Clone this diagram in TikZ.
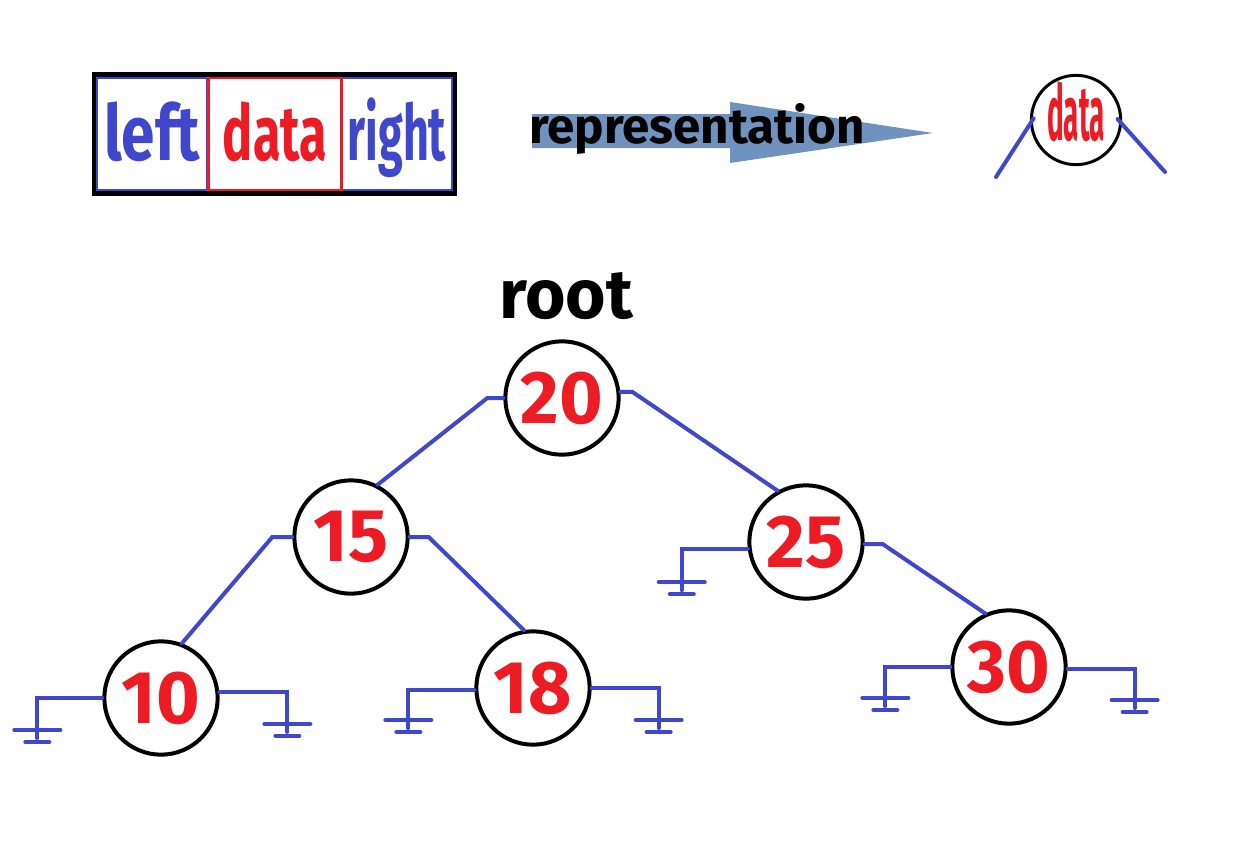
\documentclass[tikz,border=0pt]{standalone}
\usepackage{fontspec}
\usepackage{graphicx}
\setmainfont{Fira Sans}
\usetikzlibrary{fit}
\definecolor{paintblue}{RGB}{63,72,204}
\definecolor{paintred}{RGB}{237,28,36}
\definecolor{arrowgray}{RGB}{112,146,190}
\newcommand{\groundat}[3]{\draw[wire] (#1) -| ++(#2,#3) coordinate (gnd) ++(-23,-8) -- ++(46,0) (gnd) ++(-12,4) -- ++(24,0);}

\begin{document}
\begin{tikzpicture}[x=0.75pt,y=-0.75pt,
  num/.style={circle, draw, line width=3pt, minimum size=85pt, inner sep=0pt, text=paintred, font=\bfseries\fontsize{56}{64}\selectfont},
  wire/.style={paintblue, line width=3pt, line cap=round},
  cell/.style={draw, line width=2pt, inner sep=0pt, minimum height=85pt, text height=46pt, text depth=7pt, font=\bfseries\fontsize{58}{66}\selectfont}]
  \useasboundingbox (0,0) rectangle (1248,860);
  \node (lf) [cell, paintblue, minimum width=83pt] at (152,134) {\scalebox{0.78}[1]{left}};
  \node (rt) [cell, paintblue, minimum width=83pt] at (397,134) {\scalebox{0.58}[1]{right}};
  \node (dc) [cell, paintred, line width=2.25pt, minimum width=100pt] at (275,134) {\scalebox{0.65}[1]{data}};
  \node (box) [draw, line width=3.5pt, inner sep=1.1pt, fit=(lf)(dc)(rt)] {};
  \fill[arrowgray] (532,114) -- (730,114) -- (730,102) -- (933,133) -- (730,163) -- (730,148) -- (532,148) -- cycle;
  \node (rep) [anchor=base, font=\bfseries\fontsize{37}{44}\selectfont] at (697,143) {representation};
  \node (sd) [circle, draw, line width=2.25pt, minimum size=67pt, inner sep=0pt, text=paintred, text height=40pt, text depth=10pt, font=\bfseries\fontsize{58}{66}\selectfont] at (1076,120) {\scalebox{0.36}[1]{data}};
  \coordinate (sdl) at (996,177);
  \coordinate (sdr) at (1165,172);
  \draw[wire, shorten >=-5pt] (sdl) -- (sd.185);
  \draw[wire, shorten >=-5pt] (sdr) -- (sd.355);
  \node (root) [anchor=base, font=\bfseries\fontsize{52}{60}\selectfont] at (566,318) {root};
  \node (n20) [num] at (562,398) {20};
  \node (n15) [num] at (351,537) {15};
  \node (n25) [num] at (806,542) {25};
  \node (n10) [num] at (161,698) {10};
  \node (n18) [num] at (533,688) {18};
  \node (n30) [num] at (1009,667) {30};
  \draw[wire] (n20.west) -- ++(-16,0) -- (n15.63);
  \draw[wire] (n20.6) -- ++(12,0) -- (n25.119);
  \draw[wire] (n15.west) -- ++(-20,0) -- (n10.69);
  \draw[wire] (n15.east) -- ++(19,0) -- (n18.99);
  \draw[wire] (n25.358) -- ++(18,0) -- (n30.114);
  \groundat{n10.west}{-65}{40}
  \groundat{n10.6}{68}{40}
  \groundat{n18.182}{-66}{38}
  \groundat{n18.east}{67}{40}
  \groundat{n25.187}{-66}{41}
  \groundat{n30.west}{-65}{39}
  \groundat{n30.358}{67}{39}
\end{tikzpicture}
\end{document}
